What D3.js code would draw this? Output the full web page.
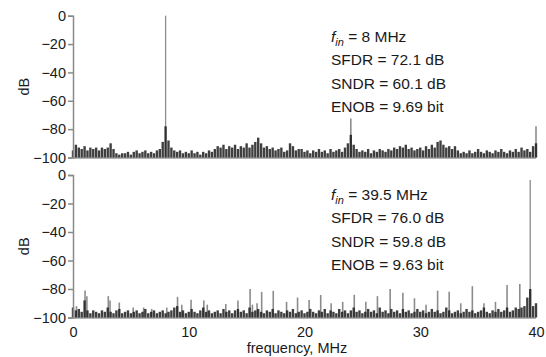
<!DOCTYPE html>
<html>
<head>
<meta charset="utf-8">
<script src="https://cdn.jsdelivr.net/npm/d3@7"></script>
<style>
  body { margin: 0; background: #fff; }
  svg { display: block; font-family: "Liberation Sans", Arial, sans-serif; }
</style>
</head>
<body>
<div id="chart"></div>
<script>
// noise floor, one value every 0.25 MHz from 0 to 40 MHz
const noiseStep = 0.25;
const topNoise = [
  -95, -91, -93, -94, -92, -95, -93, -94, -93, -95, -93, -94, -93, -90, -94, -97,
  -98, -97, -97, -96, -98, -96, -95, -97, -96, -95, -97, -96, -97, -95, -94, -89,
  -78, -88, -93, -95, -96, -95, -97, -96, -97, -95, -97, -96, -98, -96, -97, -95,
  -96, -94, -92, -93, -91, -94, -92, -93, -91, -94, -92, -93, -90, -93, -91, -89,
  -86, -90, -93, -92, -94, -93, -95, -94, -93, -96, -95, -90, -92, -95, -94, -94,
  -96, -95, -97, -95, -96, -94, -96, -95, -97, -94, -96, -95, -94, -96, -93, -90,
  -84, -91, -94, -96, -95, -96, -94, -97, -95, -96, -94, -95, -96, -94, -95, -93,
  -94, -92, -93, -91, -94, -93, -95, -94, -93, -95, -92, -94, -91, -93, -89, -88,
  -91, -93, -92, -94, -92, -95, -97, -96, -97, -95, -97, -96, -94, -96, -97, -95,
  -96, -97, -95, -96, -94, -96, -97, -95, -96, -94, -96, -93, -95, -94, -96, -92,
  -90
];
const bottomNoise = [
  -93, -95, -94, -96, -88, -95, -97, -95, -96, -97, -95, -96, -93, -96, -97, -95,
  -94, -97, -96, -95, -97, -96, -95, -97, -96, -94, -97, -96, -95, -97, -96, -95,
  -97, -96, -95, -93, -92, -96, -95, -97, -96, -94, -96, -97, -95, -93, -96, -95,
  -97, -96, -95, -97, -94, -96, -95, -97, -95, -94, -96, -95, -97, -93, -96, -95,
  -94, -96, -97, -95, -96, -94, -97, -95, -96, -97, -95, -96, -94, -97, -96, -95,
  -97, -96, -94, -96, -97, -95, -96, -94, -97, -95, -96, -97, -94, -96, -95, -97,
  -95, -93, -96, -95, -97, -96, -94, -96, -95, -97, -93, -96, -95, -97, -94, -96,
  -95, -97, -94, -96, -95, -97, -96, -94, -96, -95, -97, -96, -94, -96, -95, -97,
  -96, -93, -95, -97, -96, -95, -97, -96, -94, -96, -95, -97, -96, -95, -93, -96,
  -97, -95, -96, -94, -96, -95, -93, -96, -95, -93, -94, -93, -92, -86, -80, -92,
  -90
];

// tones and spurs [MHz, dB]
const topSpurs = [[8, 0], [24, -72.5], [40, -78]];
const bottomSpurs = [
  [0.3, -92], [1.04, -81], [1.2, -85], [3.05, -85], [3.2, -88], [4.0, -89.5],
  [5.2, -93], [6.1, -93], [6.8, -94], [8.1, -93], [9.03, -85.5], [9.4, -91],
  [10.2, -87.5], [11.3, -88], [11.6, -91], [13.2, -90.5], [14.25, -88], [15.3, -80],
  [15.5, -91], [15.9, -90], [16.3, -82], [17.3, -81.3], [18.45, -89], [19.4, -86],
  [20.4, -87.7], [21.4, -84.2], [22.3, -90], [23.3, -89], [24.3, -84], [25.3, -89],
  [26.3, -85], [27.4, -80], [28.5, -82.6], [29.5, -86.5], [30.5, -91], [31.5, -81.2],
  [32.5, -82], [33.5, -90], [34.5, -78], [35.5, -90], [36.5, -89], [37.5, -77.2],
  [38.6, -76.5], [39.5, -3.5]
];

const yTicks = [0, -20, -40, -60, -80, -100];
const xTicks = [0, 10, 20, 30, 40];
const topNotes = ["= 8 MHz", "SFDR = 72.1 dB", "SNDR = 60.1 dB", "ENOB = 9.69 bit"];
const bottomNotes = ["= 39.5 MHz", "SFDR = 76.0 dB", "SNDR = 59.8 dB", "ENOB = 9.63 bit"];

const W = 546, H = 357;
const svg = d3.select("#chart").append("svg").attr("width", W).attr("height", H);

const x = d3.scaleLinear().domain([0, 40]).range([73, 536]);

const panels = [
  { noise: topNoise, spurs: topSpurs, notes: topNotes, top: 15.7, bottom: 157.5, noteY: 42 },
  { noise: bottomNoise, spurs: bottomSpurs, notes: bottomNotes, top: 175, bottom: 317.5, noteY: 200 }
];

panels.forEach((p, k) => {
  const y = d3.scaleLinear().domain([-100, 0]).range([p.bottom, p.top]);
  const g = svg.append("g");

  // bottom line of panel
  g.append("line")
    .attr("x1", x(0)).attr("x2", x(40))
    .attr("y1", y(-100) + 0.5).attr("y2", y(-100) + 0.5)
    .attr("stroke", "#9a9a9a").attr("stroke-width", 1.5);

  // spurs (lighter gray)
  g.selectAll(".spur").data(p.spurs).join("line")
    .attr("class", "spur")
    .attr("x1", d => x(d[0])).attr("x2", d => x(d[0]))
    .attr("y1", y(-100)).attr("y2", d => y(d[1]))
    .attr("stroke", "#8c8c8c")
    .attr("stroke-width", d => d[1] > -20 ? 1.3 : 1.6);

  // noise floor (dark)
  g.selectAll(".nz").data(p.noise).join("line")
    .attr("class", "nz")
    .attr("x1", (d, i) => x(i * noiseStep)).attr("x2", (d, i) => x(i * noiseStep))
    .attr("y1", y(-100)).attr("y2", d => y(d))
    .attr("stroke", "#1e1e1e").attr("stroke-width", 2.4).attr("opacity", 0.85);

  // y axis
  const ya = g.append("g")
    .attr("transform", `translate(${x(0)},0)`)
    .call(d3.axisLeft(y).tickValues(yTicks).tickSize(5).tickPadding(2));
  ya.select(".domain").attr("stroke", "#8a8a8a").attr("stroke-width", 1.5);
  ya.selectAll(".tick line").attr("stroke", "#8a8a8a").attr("stroke-width", 1.5);
  ya.selectAll(".tick text").attr("font-size", 14.5).attr("fill", "#1a1a1a")
    .attr("font-family", "'Liberation Sans', Arial, sans-serif");

  svg.append("text")
    .attr("transform", `translate(29,${(p.top + p.bottom) / 2}) rotate(-90)`)
    .attr("text-anchor", "middle")
    .attr("font-size", 14.5).attr("fill", "#1a1a1a")
    .text("dB");

  // annotations
  const t = svg.append("text").attr("x", 331).attr("y", p.noteY)
    .attr("font-size", 15.5).attr("fill", "#1a1a1a");
  t.append("tspan").attr("font-style", "italic").text("f");
  t.append("tspan").attr("font-style", "italic").attr("font-size", 11).attr("dy", 4).text("in");
  t.append("tspan").attr("dy", -4).text(" " + p.notes[0]);
  p.notes.slice(1).forEach((s, i) => {
    svg.append("text").attr("x", 331).attr("y", p.noteY + 23.3 * (i + 1))
      .attr("font-size", 15.5).attr("fill", "#1a1a1a").text(s);
  });

  if (k === 1) {
    const xa = g.append("g")
      .attr("transform", `translate(0,${y(-100)})`)
      .call(d3.axisBottom(x).tickValues(xTicks).tickSize(0).tickPadding(9));
    xa.select(".domain").remove();
    xa.selectAll(".tick text").attr("font-size", 14.5).attr("fill", "#1a1a1a")
      .attr("font-family", "'Liberation Sans', Arial, sans-serif");
    svg.append("text").attr("x", 297).attr("y", 353)
      .attr("text-anchor", "middle").attr("font-size", 14.5).attr("fill", "#1a1a1a")
      .text("frequency, MHz");
  }
});
</script>
</body>
</html>
